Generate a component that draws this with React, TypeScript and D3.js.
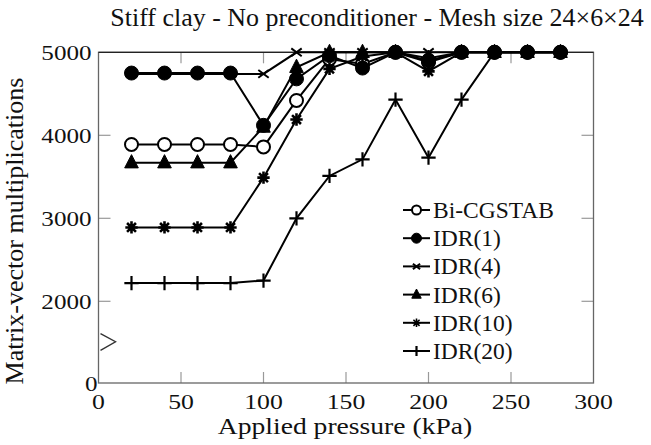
import React from "react";
import * as d3 from "d3";

const pressures = [20, 40, 60, 80, 100, 120, 140, 160, 180, 200, 220, 240, 260, 280];
const biCgstab = [3890, 3890, 3890, 3890, 3860, 4420, 4920, 4860, 5000, 4880, 5000, 5000, 5000, 5000];
const idr1 = [4750, 4750, 4750, 4750, 4120, 4680, 4960, 4810, 5000, 4900, 5000, 5000, 5000, 5000];
const idr4 = [4740, 4740, 4740, 4740, 4740, 5000, 5000, 5000, 5000, 5000, 5000, 5000, 5000, 5000];
const idr6 = [3670, 3670, 3670, 3670, 4100, 4820, 5000, 5000, 5000, 4930, 5000, 5000, 5000, 5000];
const idr10 = [2890, 2890, 2890, 2890, 3490, 4190, 4800, 4950, 5000, 4770, 5000, 5000, 5000, 5000];
const idr20 = [2220, 2220, 2220, 2220, 2250, 3000, 3510, 3710, 4430, 3730, 4430, 5000, 5000, 5000];

const seriesNames = ["Bi-CGSTAB", "IDR(1)", "IDR(4)", "IDR(6)", "IDR(10)", "IDR(20)"];
const seriesValues = [biCgstab, idr1, idr4, idr6, idr10, idr20];
const markerKinds = ["openCircle", "filledCircle", "x", "triangle", "star", "plus"];

const xTicks = [0, 50, 100, 150, 200, 250, 300];
const yTicks = [0, 2000, 3000, 4000, 5000];

const title = "Stiff clay - No preconditioner - Mesh size 24\u00d76\u00d724";
const xLabel = "Applied pressure (kPa)";
const yLabel = "Matrix-vector multiplications";

const FONT = "'Liberation Serif', 'Times New Roman', serif";

function Marker({ kind, cx, cy, s, legend }: { kind: string; cx: number; cy: number; s: number; legend?: boolean }) {
  const r = s / 2;
  switch (kind) {
    case "openCircle":
      return <circle cx={cx} cy={cy} r={r} fill="#fff" stroke="#000" strokeWidth={2} />;
    case "filledCircle":
      return <circle cx={cx} cy={cy} r={r + 0.5} fill="#000" stroke="#000" strokeWidth={1} />;
    case "x":
      return (
        <path
          d={`M${cx - r * 0.8},${cy - r * 0.6}L${cx + r * 0.8},${cy + r * 0.6}M${cx - r * 0.8},${cy + r * 0.6}L${cx + r * 0.8},${cy - r * 0.6}`}
          stroke="#000"
          strokeWidth={2}
        />
      );
    case "triangle": {
      const h = s * 1.0;
      return (
        <path
          d={`M${cx},${cy - h * 0.62}L${cx + r * 1.05},${cy + h * 0.4}L${cx - r * 1.05},${cy + h * 0.4}Z`}
          fill="#000"
          stroke="#000"
          strokeWidth={1}
        />
      );
    }
    case "star": {
      const a = r * 0.95;
      const b = a * 0.72;
      return (
        <path
          d={`M${cx},${cy - a}L${cx},${cy + a}M${cx - a},${cy}L${cx + a},${cy}M${cx - b},${cy - b}L${cx + b},${cy + b}M${cx - b},${cy + b}L${cx + b},${cy - b}`}
          stroke="#000"
          strokeWidth={legend ? 1.6 : 2.6}
        />
      );
    }
    case "plus":
      return (
        <path
          d={`M${cx},${cy - r * 1.1}L${cx},${cy + r * 1.1}M${cx - r * 1.1},${cy}L${cx + r * 1.1},${cy}`}
          stroke="#000"
          strokeWidth={2.2}
        />
      );
    default:
      return null;
  }
}

export default function App() {
  const width = 651;
  const height = 445;
  const x = d3.scaleLinear().domain([0, 300]).range([98.5, 593.5]);
  const y = d3.scaleLinear().domain([0, 2000, 5000]).range([383, 301.3, 52.3]);
  const line = d3
    .line<[number, number]>()
    .x((d) => x(d[0]))
    .y((d) => y(d[1]));

  const x0 = x(0);
  const x1 = x(300);
  const yTop = y(5000);
  const yBot = y(0);
  const tickLen = 11;

  const legendX = 403;
  const legendY0 = 210;
  const legendDy = 28.2;

  return (
    <svg
      width={width}
      height={height}
      style={{ position: "absolute", left: 0, top: 0, background: "#fff" }}
      fontFamily={FONT}
    >
      <rect x={0} y={0} width={width} height={height} fill="#fff" />
      <text transform={`translate(377,26) scale(1.06,1)`} textAnchor="middle" fontSize={24.5} fill="#111">
        {title}
      </text>

      {/* ticks */}
      {xTicks.slice(1, -1).map((t) => (
        <g key={"xt" + t}>
          <line x1={x(t)} x2={x(t)} y1={yBot} y2={yBot - tickLen} stroke="#999" strokeWidth={1.2} />
          <line x1={x(t)} x2={x(t)} y1={yTop} y2={yTop + tickLen} stroke="#999" strokeWidth={1.2} />
        </g>
      ))}
      {yTicks.slice(1, -1).map((t) => (
        <g key={"yt" + t}>
          <line x1={x0} x2={x0 + 12} y1={y(t)} y2={y(t)} stroke="#999" strokeWidth={1.2} />
          <line x1={x1} x2={x1 - 12} y1={y(t)} y2={y(t)} stroke="#999" strokeWidth={1.2} />
        </g>
      ))}

      {/* box */}
      <rect x={x0} y={yTop} width={x1 - x0} height={yBot - yTop} fill="none" stroke="#666" strokeWidth={1.3} />
      <line x1={x0} x2={x1} y1={yTop} y2={yTop} stroke="#222" strokeWidth={1.3} />

      {/* axis break mark */}
      <path
        d={`M${x0 + 2},${y(1210)}L${x0 + 17},${y(1010)}L${x0 + 2},${y(800)}`}
        fill="none"
        stroke="#333"
        strokeWidth={1.4}
      />

      {/* tick labels */}
      {xTicks.map((t) => (
        <text
          key={"xl" + t}
          transform={`translate(${x(t)},${yBot + 26}) scale(1.17,1)`}
          textAnchor="middle"
          fontSize={22}
          fill="#111"
        >
          {t}
        </text>
      ))}
      {yTicks.map((t) => (
        <text
          key={"yl" + t}
          transform={`translate(${t === 0 ? x0 - 1 : x0 - 7},${y(t) + 7.5}) scale(1.14,1)`}
          textAnchor="end"
          fontSize={22}
          fill="#111"
        >
          {t}
        </text>
      ))}

      <text transform={`translate(345,434) scale(1.15,1)`} textAnchor="middle" fontSize={24} fill="#111">
        {xLabel}
      </text>
      <text
        transform={`translate(23,${231}) rotate(-90)`}
        textAnchor="middle"
        fontSize={26}
        fill="#111"
      >
        {yLabel}
      </text>

      {/* series */}
      {seriesValues.map((vals, i) => {
        const pts: [number, number][] = pressures.map((p, j) => [p, vals[j]]);
        return (
          <g key={"s" + i}>
            <path d={line(pts) || ""} fill="none" stroke="#000" strokeWidth={2} />
            {pts.map((d, j) => (
              <Marker key={j} kind={markerKinds[i]} cx={x(d[0])} cy={y(d[1])} s={13} />
            ))}
          </g>
        );
      })}

      {/* legend */}
      {seriesNames.map((name, i) => {
        const ly = legendY0 + i * legendDy;
        return (
          <g key={"lg" + i}>
            <line x1={legendX} x2={legendX + 27} y1={ly} y2={ly} stroke="#000" strokeWidth={2} />
            <Marker kind={markerKinds[i]} cx={legendX + 13.5} cy={ly} s={9} legend />
            <text x={legendX + 30} y={ly + 8} fontSize={23.5} fill="#111">
              {name}
            </text>
          </g>
        );
      })}
    </svg>
  );
}
